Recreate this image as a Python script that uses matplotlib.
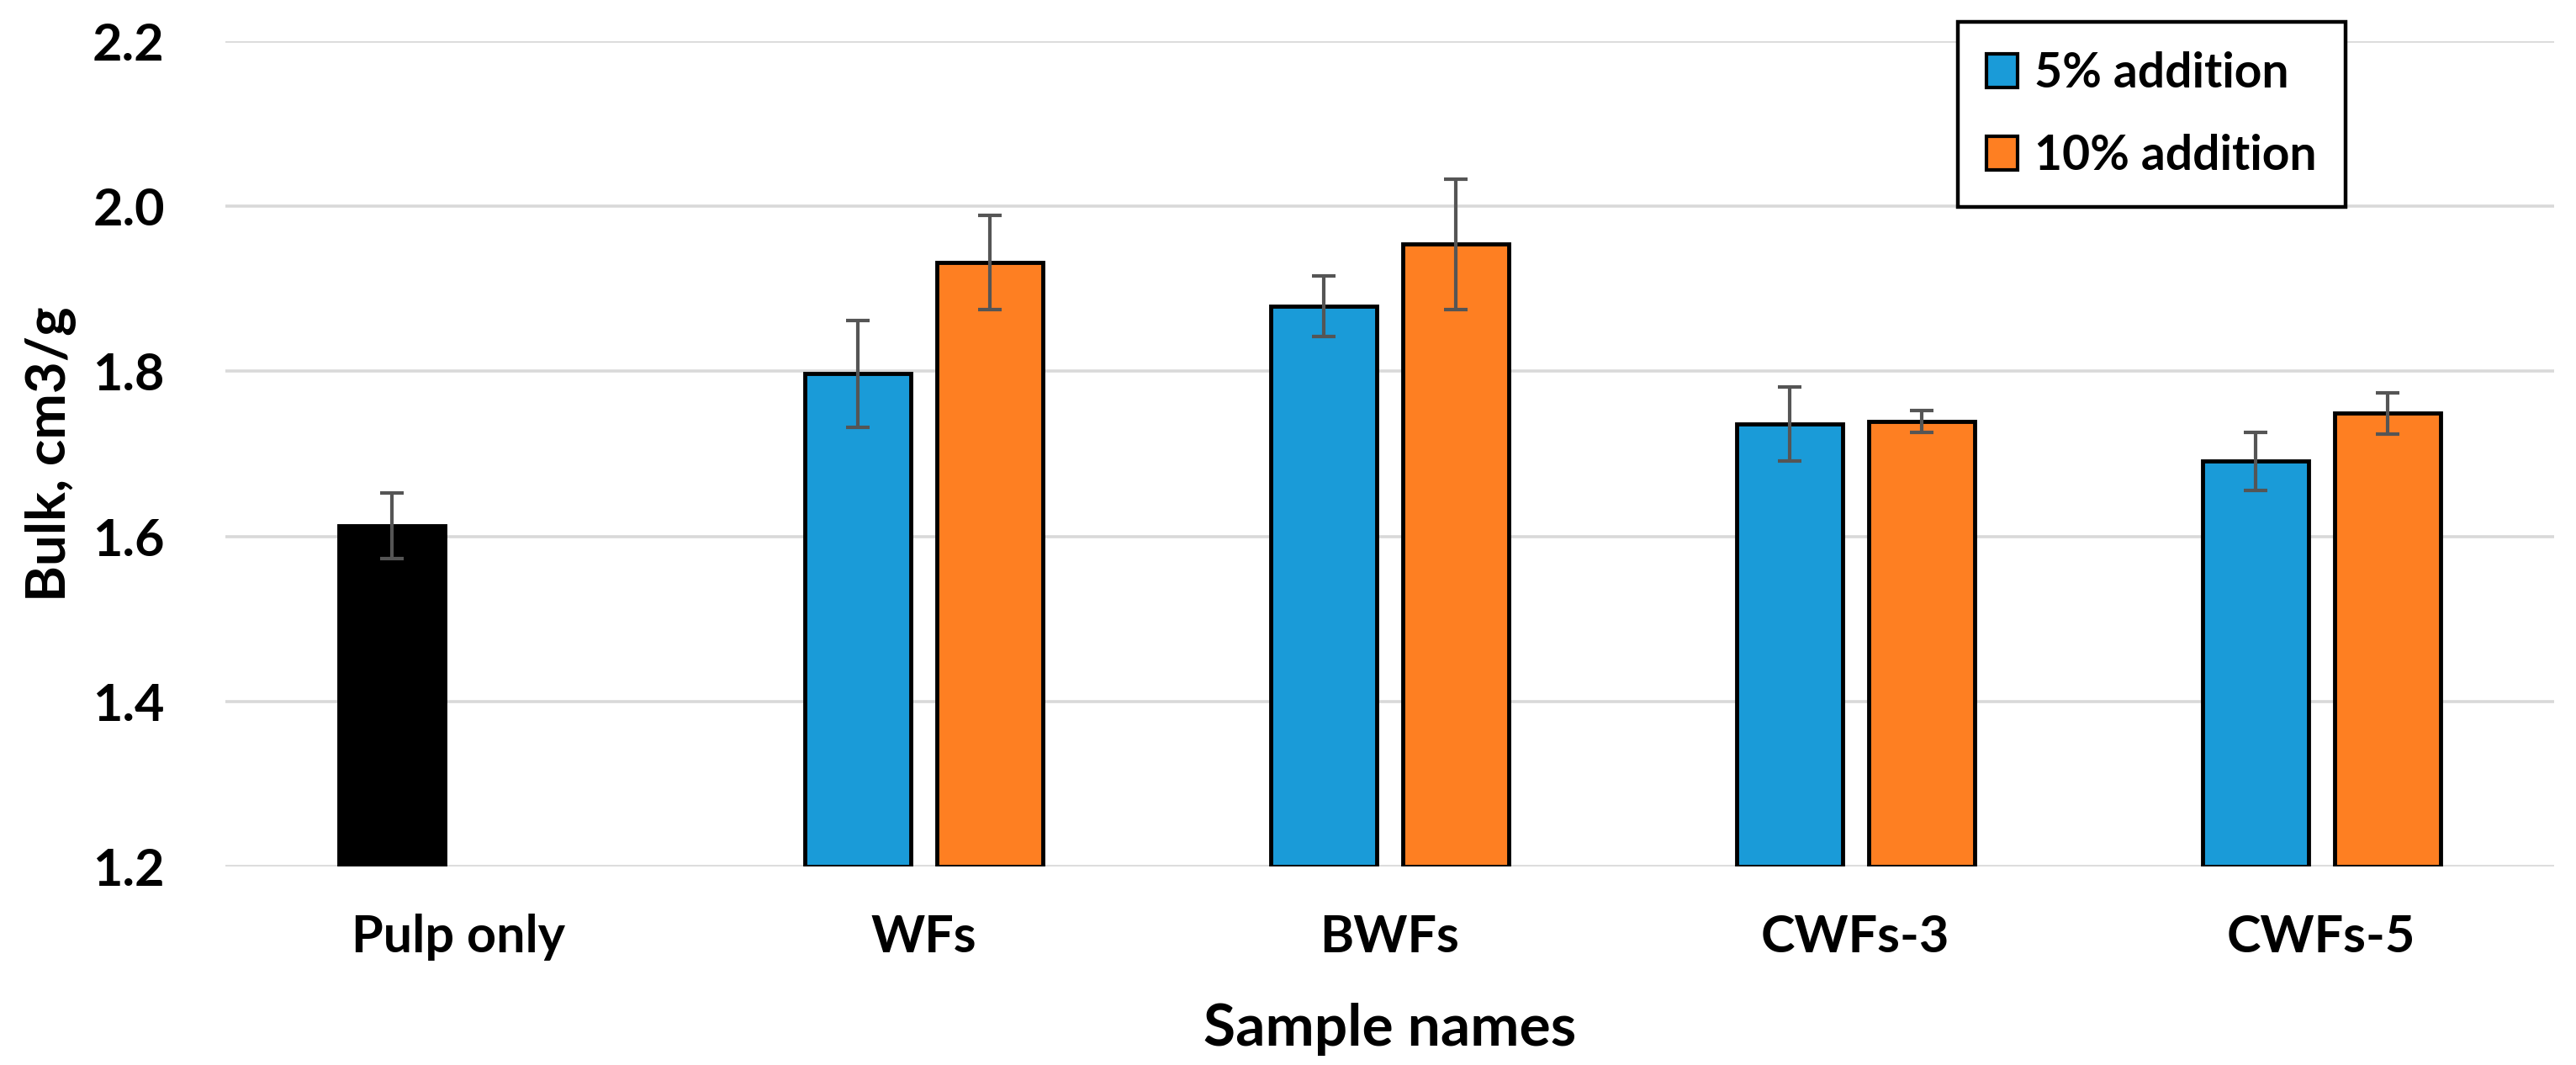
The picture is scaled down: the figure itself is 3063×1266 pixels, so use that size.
import numpy as np
import matplotlib
matplotlib.use("Agg")
from matplotlib import pyplot as plt
from matplotlib.patches import Patch

categories = ["Pulp only", "WFs", "BWFs", "CWFs-3", "CWFs-5"]
add5 = [1.613, 1.797, 1.879, 1.736, 1.691]
add5_err = [0.040, 0.065, 0.037, 0.045, 0.035]
add10 = [np.nan, 1.932, 1.954, 1.739, 1.749]
add10_err = [np.nan, 0.057, 0.079, 0.013, 0.025]
series_names = ["5% addition", "10% addition"]
yticks = [1.2, 1.4, 1.6, 1.8, 2.0, 2.2]

blue = "#1a9bd8"
orange = "#fe7f22"
err_col = "#555555"

plt.rcParams["font.family"] = ["Lato", "DejaVu Sans"]

fig = plt.figure(figsize=(30.63, 12.66), dpi=100)
ax = fig.add_axes([0.0875, 0.1864, 0.904, 0.7749])

x = np.arange(len(categories))
w = 0.2275
off = 0.1417

cols5 = ["black"] + [blue] * (len(categories) - 1)
ax.bar(x - off, np.array(add5) - 1.2, w, bottom=1.2, color=cols5,
       edgecolor="black", linewidth=3.5, zorder=3)
ax.bar(x + off, np.array(add10) - 1.2, w, bottom=1.2, color=orange,
       edgecolor="black", linewidth=3.5, zorder=3)
ax.errorbar(x - off, add5, yerr=add5_err, fmt="none", ecolor=err_col,
            elinewidth=3, capsize=10, capthick=3, zorder=4)
ax.errorbar(x + off, add10, yerr=add10_err, fmt="none", ecolor=err_col,
            elinewidth=3, capsize=10, capthick=3, zorder=4)

ax.set_ylim(1.2, 2.2)
ax.set_xlim(-0.5, 4.5)
ax.set_yticks(yticks)
ax.set_yticklabels(["%.1f" % v for v in yticks])
ax.set_xticks(x)
ax.set_xticklabels(categories)
ax.yaxis.grid(True, color="#d9d9d9", linewidth=2.6, zorder=0)
ax.set_axisbelow(True)
for s in ax.spines.values():
    s.set_visible(False)
ax.tick_params(axis="both", length=0, labelsize=44)
ax.tick_params(axis="x", pad=40)
ax.tick_params(axis="y", pad=52)
for lab in ax.get_xticklabels() + ax.get_yticklabels():
    lab.set_fontweight("bold")

ax.set_ylabel("Bulk, cm3/g", fontsize=47, fontweight="bold", labelpad=14)
ax.set_xlabel("Sample names", fontsize=50, fontweight="bold", labelpad=36)

handles = [Patch(facecolor=blue, edgecolor="black", linewidth=3),
           Patch(facecolor=orange, edgecolor="black", linewidth=3)]
leg = ax.legend(handles, series_names, loc="upper left",
                bbox_to_anchor=(0.744, 1.023),
                prop={"weight": "bold", "size": 41},
                frameon=True, fancybox=False, edgecolor="black",
                framealpha=1.0,
                handlelength=0.65, handleheight=0.7, handletextpad=0.35,
                labelspacing=0.8, borderpad=0.6, borderaxespad=0)
leg.get_frame().set_linewidth(3.2)

fig.savefig("out.png", dpi=100)
